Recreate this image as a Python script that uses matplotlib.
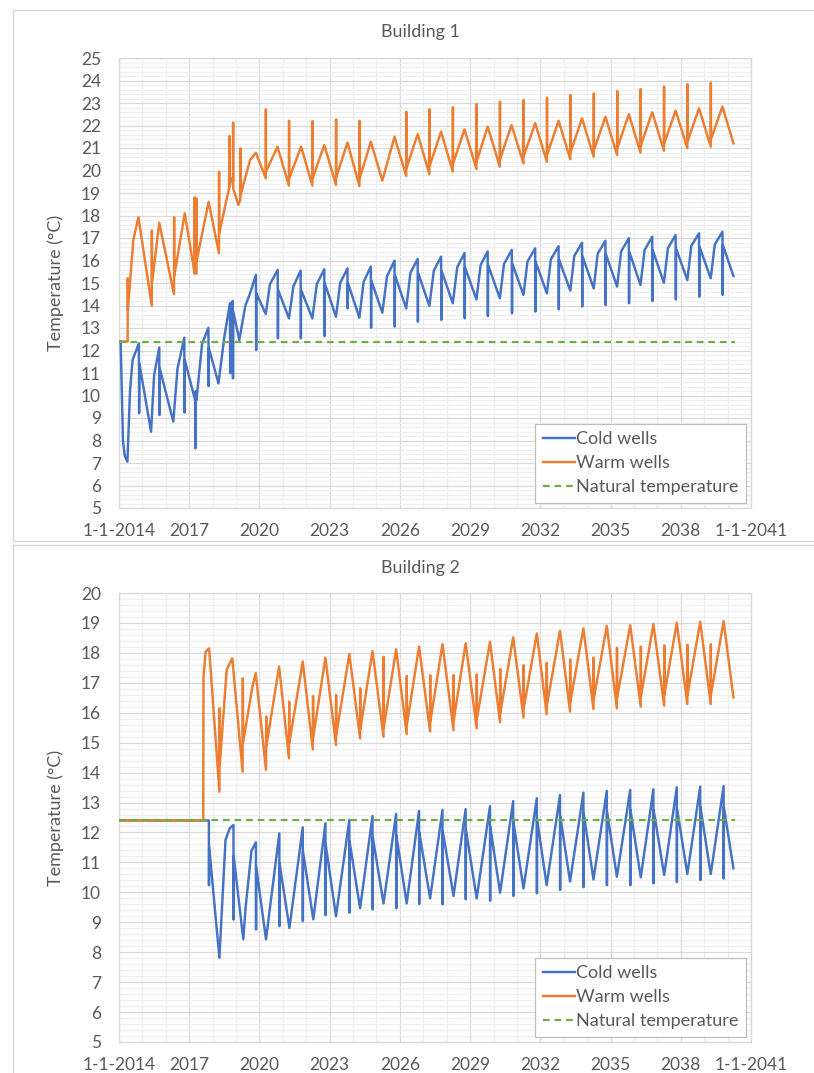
import numpy as np
from matplotlib import pyplot as plt
from matplotlib.ticker import MultipleLocator

# Excel-like colours
BLUE = '#4472C4'
ORANGE = '#ED7D31'
GREEN = '#70AD47'
TXT = '#595959'

NATURAL_T = 12.4

# x axis ticks (decimal years)
TICK_YEARS = [2014, 2017, 2020, 2023, 2026, 2029, 2032, 2035, 2038, 2041]
TICK_LABELS = ['1-1-2014', '2017', '2020', '2023', '2026', '2029', '2032', '2035', '2038', '1-1-2041']

# ---------------- Building 1 ----------------
b1_cold_t = [2014.00, 2014.07, 2014.17, 2014.25, 2014.36, 2014.47, 2014.58, 2014.85, 2014.86, 2014.87,
             2015.37, 2015.50, 2015.72, 2015.73, 2015.74,
             2016.32, 2016.50, 2016.79, 2016.80, 2016.81,
             2017.25, 2017.26, 2017.28, 2017.31, 2017.55, 2017.82, 2017.83, 2017.84,
             2018.25, 2018.50, 2018.74, 2018.75, 2018.76, 2018.86, 2018.87, 2018.88,
             2019.14, 2019.40, 2019.60, 2019.85, 2019.86, 2019.87,
             2020.27, 2020.45, 2020.78, 2020.79, 2020.80,
             2021.26, 2021.45, 2021.76, 2021.77, 2021.78,
             2022.26, 2022.45, 2022.77, 2022.78, 2022.79,
             2023.27, 2023.45, 2023.76, 2023.77, 2023.78,
             2024.27, 2024.45, 2024.76, 2024.77, 2024.78,
             2025.25, 2025.45, 2025.77, 2025.78, 2025.79,
             2026.27, 2026.45, 2026.76, 2026.77, 2026.78,
             2027.26, 2027.45, 2027.76, 2027.77, 2027.78,
             2028.26, 2028.45, 2028.76, 2028.77, 2028.78,
             2029.27, 2029.45, 2029.75, 2029.76, 2029.77,
             2030.27, 2030.45, 2030.78, 2030.79, 2030.80,
             2031.28, 2031.45, 2031.78, 2031.79, 2031.80,
             2032.28, 2032.45, 2032.78, 2032.79, 2032.80,
             2033.28, 2033.45, 2033.78, 2033.79, 2033.80,
             2034.28, 2034.45, 2034.78, 2034.79, 2034.80,
             2035.28, 2035.45, 2035.78, 2035.79, 2035.80,
             2036.28, 2036.45, 2036.78, 2036.79, 2036.80,
             2037.28, 2037.45, 2037.78, 2037.79, 2037.80,
             2038.28, 2038.45, 2038.78, 2038.79, 2038.80,
             2039.28, 2039.45, 2039.78, 2039.79, 2039.80,
             2040.25]
b1_cold_v = [12.4, 12.4, 8.0, 7.3, 7.06, 10.2, 11.58, 12.32, 9.21, 11.43,
             8.39, 10.9, 12.13, 9.13, 11.21,
             8.84, 11.2, 12.57, 9.24, 11.58,
             9.80, 7.65, 10.2, 9.8, 12.3, 13.01, 10.42, 12.1,
             10.54, 12.6, 14.10, 10.99, 14.0, 14.21, 10.76, 13.73,
             12.47, 14.0, 14.54, 15.36, 12.02, 14.54,
             13.62, 14.95, 15.58, 12.54, 14.69,
             13.43, 14.85, 15.55, 12.54, 14.69,
             13.43, 14.95, 15.61, 12.64, 14.99,
             13.50, 15.0, 15.65, 13.87, 15.0,
             13.46, 15.05, 15.73, 13.01, 15.1,
             13.68, 15.3, 15.99, 13.06, 15.35,
             13.87, 15.45, 16.07, 13.28, 15.45,
             13.98, 15.55, 16.17, 13.36, 15.55,
             14.10, 15.7, 16.33, 13.43, 15.7,
             14.27, 15.8, 16.40, 13.53, 15.8,
             14.32, 15.85, 16.47, 13.65, 15.87,
             14.47, 15.95, 16.54, 13.73, 15.94,
             14.54, 16.05, 16.64, 13.83, 16.04,
             14.66, 16.2, 16.79, 13.95, 16.19,
             14.76, 16.3, 16.88, 14.02, 16.28,
             14.84, 16.4, 16.99, 14.10, 16.39,
             14.91, 16.45, 17.06, 14.20, 16.46,
             15.01, 16.55, 17.13, 14.27, 16.53,
             15.13, 16.65, 17.21, 14.39, 16.61,
             15.21, 16.7, 17.28, 14.47, 16.68,
             15.31]

b1_warm_t = [2014.00, 2014.37, 2014.375, 2014.38, 2014.61, 2014.83,
             2015.40, 2015.405, 2015.41, 2015.72,
             2016.35, 2016.355, 2016.36, 2016.81,
             2017.23, 2017.235, 2017.24, 2017.31, 2017.315, 2017.32, 2017.83,
             2018.27, 2018.275, 2018.28, 2018.72, 2018.725, 2018.73, 2018.81, 2018.87, 2018.875, 2018.88,
             2019.10, 2019.18, 2019.185, 2019.19, 2019.60, 2019.85,
             2020.27, 2020.275, 2020.28, 2020.77,
             2021.26, 2021.265, 2021.27, 2021.78,
             2022.26, 2022.265, 2022.27, 2022.77,
             2023.27, 2023.275, 2023.28, 2023.76,
             2024.27, 2024.275, 2024.28, 2024.76,
             2025.25, 2025.77,
             2026.27, 2026.275, 2026.28, 2026.76,
             2027.26, 2027.265, 2027.27, 2027.76,
             2028.26, 2028.265, 2028.27, 2028.76,
             2029.27, 2029.275, 2029.28, 2029.75,
             2030.27, 2030.275, 2030.28, 2030.77,
             2031.28, 2031.285, 2031.29, 2031.78,
             2032.28, 2032.285, 2032.29, 2032.78,
             2033.28, 2033.285, 2033.29, 2033.78,
             2034.28, 2034.285, 2034.29, 2034.78,
             2035.28, 2035.285, 2035.29, 2035.78,
             2036.28, 2036.285, 2036.29, 2036.78,
             2037.28, 2037.285, 2037.29, 2037.78,
             2038.28, 2038.285, 2038.29, 2038.78,
             2039.28, 2039.285, 2039.29, 2039.78,
             2040.25]
b1_warm_v = [12.4, 12.4, 15.21, 13.8, 16.91, 17.92,
             13.99, 17.33, 15.0, 17.68,
             14.50, 17.92, 15.3, 18.10,
             15.43, 18.81, 15.43, 15.43, 18.75, 16.0, 18.61,
             16.32, 19.95, 17.2, 19.3, 21.53, 19.3, 19.65, 19.5, 22.13, 19.2,
             18.47, 18.7, 20.99, 18.9, 20.47, 20.79,
             19.65, 22.72, 19.95, 21.06,
             19.33, 22.21, 19.65, 21.06,
             19.33, 22.20, 19.65, 21.13,
             19.36, 22.27, 19.7, 21.24,
             19.31, 22.21, 19.65, 21.28,
             19.55, 21.50,
             19.76, 22.61, 20.1, 21.62,
             19.84, 22.72, 20.2, 21.73,
             19.95, 22.81, 20.3, 21.83,
             20.07, 22.96, 20.4, 21.95,
             20.17, 23.06, 20.5, 22.02,
             20.32, 23.13, 20.65, 22.10,
             20.39, 23.24, 20.7, 22.21,
             20.50, 23.36, 20.8, 22.32,
             20.61, 23.43, 20.9, 22.39,
             20.69, 23.53, 21.0, 22.50,
             20.79, 23.62, 21.1, 22.59,
             20.88, 23.73, 21.2, 22.66,
             20.99, 23.83, 21.3, 22.76,
             21.06, 23.90, 21.4, 22.84,
             21.21]

b1_nat_t = [2014.0, 2040.3]
b1_nat_v = [NATURAL_T, NATURAL_T]

# ---------------- Building 2 ----------------
b2_cold_t = [2014.00, 2017.84, 2017.845, 2017.85, 2018.29, 2018.55, 2018.73, 2018.89, 2018.895, 2018.90,
             2019.31, 2019.41, 2019.66, 2019.85, 2019.855, 2019.86,
             2020.28, 2020.85, 2020.855, 2020.86,
             2021.28, 2021.85, 2021.855, 2021.86,
             2022.30, 2022.82, 2022.825, 2022.83,
             2023.27, 2023.84, 2023.845, 2023.85,
             2024.30, 2024.83, 2024.835, 2024.84,
             2025.30, 2025.84, 2025.845, 2025.85,
             2026.29, 2026.82, 2026.825, 2026.83,
             2027.29, 2027.82, 2027.825, 2027.83,
             2028.29, 2028.81, 2028.815, 2028.82,
             2029.28, 2029.85, 2029.855, 2029.86,
             2030.28, 2030.84, 2030.845, 2030.85,
             2031.28, 2031.85, 2031.855, 2031.86,
             2032.27, 2032.84, 2032.845, 2032.85,
             2033.27, 2033.84, 2033.845, 2033.85,
             2034.27, 2034.84, 2034.845, 2034.85,
             2035.27, 2035.84, 2035.845, 2035.85,
             2036.29, 2036.83, 2036.835, 2036.84,
             2037.29, 2037.83, 2037.835, 2037.84,
             2038.28, 2038.83, 2038.835, 2038.84,
             2039.28, 2039.83, 2039.835, 2039.84,
             2040.25]
b2_cold_v = [12.4, 12.4, 10.24, 11.53, 7.81, 11.75, 12.14, 12.25, 9.09, 11.2,
             8.43, 9.5, 11.39, 11.67, 8.76, 10.86,
             8.43, 11.97, 8.87, 10.97,
             8.81, 12.17, 9.04, 11.36,
             9.10, 12.31, 9.24, 11.6,
             9.20, 12.42, 9.32, 11.7,
             9.47, 12.55, 9.43, 11.85,
             9.63, 12.62, 9.47, 11.9,
             9.63, 12.72, 9.61, 12.0,
             9.80, 12.75, 9.60, 12.05,
             9.88, 12.78, 9.77, 12.1,
             9.80, 12.88, 9.72, 12.2,
             9.99, 13.05, 9.88, 12.35,
             10.13, 13.14, 9.97, 12.45,
             10.24, 13.25, 10.08, 12.55,
             10.36, 13.33, 10.17, 12.65,
             10.43, 13.39, 10.24, 12.7,
             10.52, 13.42, 10.24, 12.75,
             10.50, 13.44, 10.30, 12.75,
             10.58, 13.51, 10.35, 12.8,
             10.61, 13.53, 10.41, 12.85,
             10.61, 13.55, 10.46, 12.85,
             10.80]

b2_warm_t = [2014.00, 2017.60, 2017.61, 2017.70, 2017.85,
             2018.29, 2018.30, 2018.31, 2018.60, 2018.84,
             2019.28, 2019.29, 2019.30, 2019.70, 2019.84,
             2020.28, 2020.29, 2020.30, 2020.84,
             2021.26, 2021.27, 2021.28, 2021.85,
             2022.28, 2022.29, 2022.30, 2022.82,
             2023.27, 2023.275, 2023.28, 2023.84,
             2024.30, 2024.305, 2024.31, 2024.83,
             2025.30, 2025.305, 2025.31, 2025.84,
             2026.29, 2026.295, 2026.30, 2026.82,
             2027.29, 2027.295, 2027.30, 2027.82,
             2028.29, 2028.295, 2028.30, 2028.81,
             2029.28, 2029.285, 2029.29, 2029.85,
             2030.28, 2030.285, 2030.29, 2030.84,
             2031.28, 2031.285, 2031.29, 2031.85,
             2032.27, 2032.275, 2032.28, 2032.84,
             2033.27, 2033.275, 2033.28, 2033.84,
             2034.27, 2034.275, 2034.28, 2034.84,
             2035.27, 2035.275, 2035.28, 2035.84,
             2036.29, 2036.295, 2036.30, 2036.83,
             2037.29, 2037.295, 2037.30, 2037.83,
             2038.28, 2038.285, 2038.29, 2038.83,
             2039.28, 2039.285, 2039.29, 2039.83,
             2040.25]
b2_warm_v = [12.4, 12.4, 17.2, 18.04, 18.15,
             13.36, 16.15, 14.3, 17.43, 17.82,
             14.03, 17.15, 15.0, 16.87, 17.32,
             14.09, 15.87, 14.9, 17.54,
             14.48, 16.37, 15.0, 17.71,
             14.78, 16.56, 15.2, 17.84,
             14.92, 16.59, 15.25, 17.96,
             15.14, 16.82, 15.45, 18.06,
             15.20, 17.87, 15.5, 18.12,
             15.29, 17.23, 15.6, 18.21,
             15.37, 17.26, 15.7, 18.29,
             15.42, 17.26, 15.75, 18.32,
             15.48, 17.28, 15.8, 18.37,
             15.68, 17.46, 16.0, 18.52,
             15.84, 17.59, 16.15, 18.65,
             15.95, 17.67, 16.25, 18.74,
             16.04, 17.78, 16.35, 18.82,
             16.12, 17.84, 16.45, 18.90,
             16.15, 18.17, 16.5, 18.92,
             16.20, 18.21, 16.55, 18.96,
             16.24, 18.25, 16.6, 19.01,
             16.29, 18.27, 16.6, 19.04,
             16.29, 18.29, 16.6, 19.06,
             16.51]

b2_nat_t = [2014.0, 2040.3]
b2_nat_v = [NATURAL_T, NATURAL_T]


plt.rcParams['font.family'] = ['Lato', 'DejaVu Sans']
FS_TICK = 12.5
FS = 13

W, H = 814, 1073
fig = plt.figure(figsize=(W / 100, H / 100), dpi=100)


def fx(px):
    return px / W


def fy(py):
    return 1 - py / H


def panel(rect, ylo, yhi, title, title_y, cold_t, cold_v, warm_t, warm_v, nat_t, nat_v):
    ax = fig.add_axes(rect)
    ax.plot(cold_t, cold_v, color=BLUE, lw=1.75, label='Cold wells', zorder=3)
    ax.plot(warm_t, warm_v, color=ORANGE, lw=1.75, label='Warm wells', zorder=4)
    ax.plot(nat_t, nat_v, color=GREEN, lw=1.6, ls=(0, (3.0, 2.2)), label='Natural temperature', zorder=5)

    ax.set_xlim(2014, 2041)
    ax.set_ylim(ylo, yhi)
    ax.set_xticks(TICK_YEARS)
    ax.set_xticklabels(TICK_LABELS)
    ax.set_xticks(range(2014, 2042), minor=True)
    ax.set_yticks(range(ylo, yhi + 1))
    ax.yaxis.set_minor_locator(MultipleLocator(0.2))
    ax.grid(which='major', color='#D9D9D9', lw=0.9, zorder=1)
    ax.grid(which='minor', color='#EFEFEF', lw=0.9, zorder=0)
    ax.set_axisbelow(True)
    ax.tick_params(which='both', length=0, labelsize=FS_TICK, labelcolor=TXT)
    ax.tick_params(axis='x', pad=11)
    ax.tick_params(axis='y', pad=13)
    for s in ax.spines.values():
        s.set_color('#D9D9D9')
        s.set_linewidth(0.9)
    ax.set_ylabel('Temperature (°C)', fontsize=FS, color=TXT, labelpad=12)

    leg = ax.legend(loc='lower right', bbox_to_anchor=(0.992, 0.011), fontsize=FS,
                    frameon=True, fancybox=False, framealpha=1, edgecolor='#BFBFBF',
                    handlelength=1.8, handletextpad=0.05, labelspacing=0.45,
                    borderpad=0.42, borderaxespad=0)
    leg.get_frame().set_linewidth(0.9)
    for t in leg.get_texts():
        t.set_color(TXT)

    fig.text(fx(420), fy(title_y), title, ha='center', va='center', fontsize=FS, color=TXT)
    return ax


ax1 = panel([fx(119), fy(508), fx(751 - 119), (508 - 58) / H], 5, 25, 'Building 1', 32,
            b1_cold_t, b1_cold_v, b1_warm_t, b1_warm_v, b1_nat_t, b1_nat_v)
ax2 = panel([fx(119), fy(1042), fx(751 - 119), (1042 - 593) / H], 5, 20, 'Building 2', 568,
            b2_cold_t, b2_cold_v, b2_warm_t, b2_warm_v, b2_nat_t, b2_nat_v)

# chart area borders (Excel chart frames, cropped on the right)
bc = '#D9D9D9'
fig.add_artist(plt.Line2D([fx(13), 1], [fy(10), fy(10)], color=bc, lw=1))
fig.add_artist(plt.Line2D([fx(13), fx(13)], [fy(10), fy(541)], color=bc, lw=1))
fig.add_artist(plt.Line2D([fx(13), 1], [fy(541), fy(541)], color=bc, lw=1))
fig.add_artist(plt.Line2D([fx(13), 1], [fy(545), fy(545)], color=bc, lw=1))
fig.add_artist(plt.Line2D([fx(13), fx(13)], [fy(545), 0], color=bc, lw=1))

fig.savefig('out.png', dpi=100, facecolor='white')
